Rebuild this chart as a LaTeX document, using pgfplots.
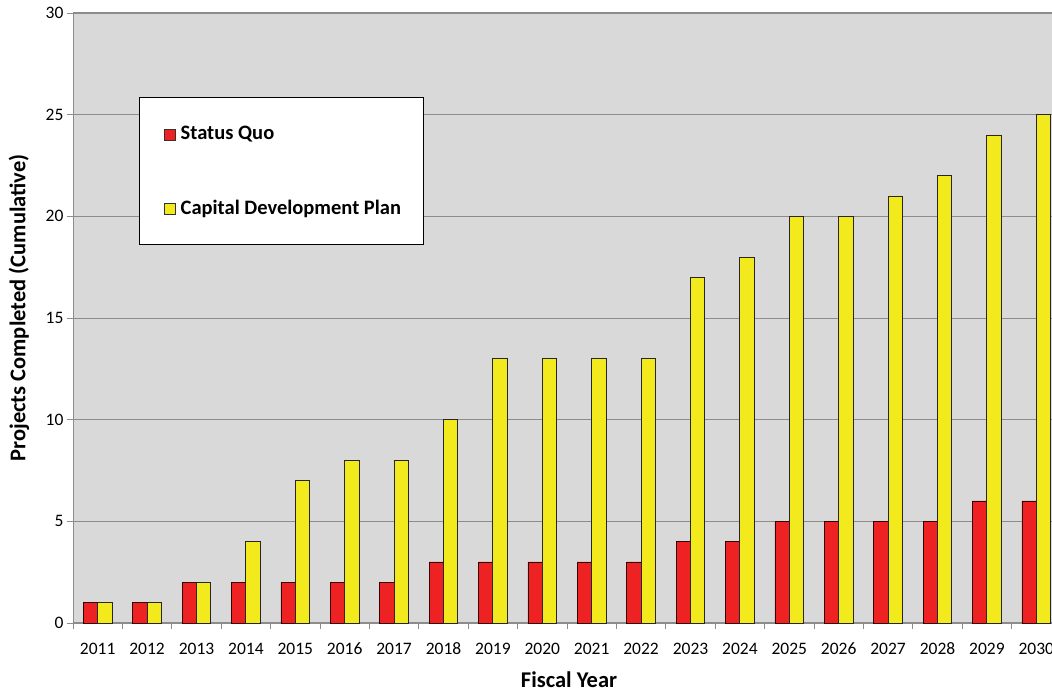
\documentclass[border=0pt]{standalone}
\usepackage{pgfplots}
\pgfplotsset{compat=1.18}
\usepackage{fontspec}
\setmainfont[Numbers=Lining]{Carlito}
\definecolor{bggray}{HTML}{D9D9D9}
\definecolor{gridgray}{HTML}{8C8C8C}
\definecolor{sqred}{HTML}{EE2222}
\definecolor{cdpyellow}{HTML}{F2EA1C}
\begin{document}
\begin{tikzpicture}[x=1pt,y=1pt]
\path[use as bounding box] (0,0) rectangle (1052,692);
\begin{axis}[
  at={(73pt,69pt)}, anchor=south west,
  scale only axis, width=988pt, height=610pt,
  xmin=-0.5, xmax=19.5, ymin=0, ymax=30,
  axis background/.style={fill=bggray},
  axis line style={gridgray, line width=1pt},
  ytick={0,5,...,30},
  ymajorgrids, grid style={gridgray, line width=0.8pt},
  xtick={0,...,19},
  xticklabels={2011,2012,2013,2014,2015,2016,2017,2018,2019,2020,2021,2022,2023,2024,2025,2026,2027,2028,2029,2030},
  major x tick style={draw=none},
  minor xtick={-0.5,0.5,...,19.5},
  minor tick length=6pt,
  major tick length=6pt,
  tick align=outside,
  tick style={gridgray, line width=0.8pt},
  xtick pos=bottom, ytick pos=left,
  x tick label style={font=\fontsize{17.5}{20}\selectfont, text height=12pt, text depth=3pt, yshift=-10pt},
  y tick label style={font=\fontsize{17.5}{20}\selectfont},
  /pgf/number format/assume math mode=true,
  ybar, bar width=0.29,
  clip=false,
]
\addplot[fill=sqred, draw=black!80!red, line width=0.9pt, bar shift=-0.145] coordinates {
(0,1) (1,1) (2,2) (3,2) (4,2) (5,2) (6,2) (7,3) (8,3) (9,3)
(10,3) (11,3) (12,4) (13,4) (14,5) (15,5) (16,5) (17,5) (18,6) (19,6)};
\addplot[fill=cdpyellow, draw=black!85, line width=0.9pt, bar shift=0.145] coordinates {
(0,1) (1,1) (2,2) (3,4) (4,7) (5,8) (6,8) (7,10) (8,13) (9,13)
(10,13) (11,13) (12,17) (13,18) (14,20) (15,20) (16,21) (17,22) (18,24) (19,25)};
\end{axis}
% legend
\draw[black, line width=1pt, fill=white] (139,447) rectangle (423,594);
\draw[black!80, line width=0.8pt, fill=sqred] (164,552) rectangle (175,563);
\node[anchor=west, inner sep=0pt, font=\fontsize{20.5}{24}\selectfont\bfseries] at (180.5,557.5) {Status Quo};
\draw[black!80, line width=0.8pt, fill=cdpyellow] (164,478) rectangle (175,489);
\node[anchor=west, inner sep=0pt, font=\fontsize{20.5}{24}\selectfont\bfseries] at (180.5,483.5) {Capital Development Plan};
% axis labels
\node[font=\fontsize{22.5}{26}\selectfont\bfseries] at (569,12) {Fiscal Year};
\node[rotate=90, font=\fontsize{22.5}{26}\selectfont\bfseries] at (19,384) {Projects Completed (Cumulative)};
\end{tikzpicture}
\end{document}
